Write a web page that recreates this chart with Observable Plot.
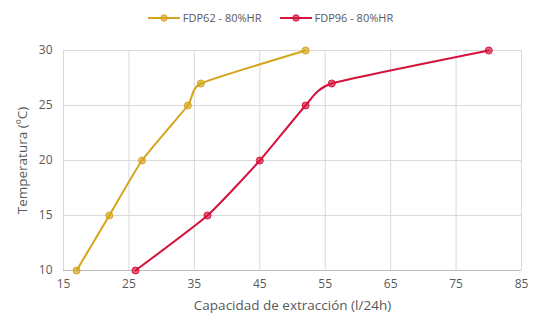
<!DOCTYPE html>
<html>
<head>
<meta charset="utf-8">
<script src="https://cdn.jsdelivr.net/npm/d3@7"></script>
<script src="https://cdn.jsdelivr.net/npm/@observablehq/plot@0.6"></script>
<style>
  html, body { margin: 0; padding: 0; background: #fff; }
  body { width: 539px; height: 319px; overflow: hidden; font-family: "Open Sans", Lato, sans-serif; }
  #legend { height: 35px; display: flex; justify-content: center; align-items: center; gap: 18px; font-size: 11px; color: #595959; padding-left: 2px; box-sizing: border-box; }
  .item { display: flex; align-items: center; gap: 3px; }
</style>
</head>
<body>
<div id="legend"></div>
<div id="chart"></div>
<script>
const seriesNames = ["FDP62 - 80%HR", "FDP96 - 80%HR"];
const seriesColors = ["#D4A41A", "#D4123C"];
const temps = [10, 15, 20, 25, 27, 30];
const capFDP62 = [17, 22, 27, 34, 36, 52];
const capFDP96 = [26, 37, 45, 52, 56, 80];
const xTicks = [15, 25, 35, 45, 55, 65, 75, 85];
const yTicks = [10, 15, 20, 25, 30];

const data = [];
[capFDP62, capFDP96].forEach((arr, s) => {
  arr.forEach((c, i) => data.push({series: seriesNames[s], cap: c, temp: temps[i]}));
});

// legend
const legend = document.getElementById("legend");
seriesNames.forEach((n, i) => {
  const d = document.createElement("div");
  d.className = "item";
  d.innerHTML = `<svg width="32" height="10"><line x1="0" x2="32" y1="5" y2="5" stroke="${seriesColors[i]}" stroke-width="2"/><circle cx="16" cy="5" r="3.2" fill="${seriesColors[i]}" fill-opacity="0.65" stroke="${seriesColors[i]}" stroke-width="1"/></svg><span>${n}</span>`;
  legend.appendChild(d);
});

const chart = Plot.plot({
  width: 539,
  height: 284,
  marginTop: 15,
  marginBottom: 49,
  marginLeft: 63,
  marginRight: 18,
  style: { fontFamily: "'Open Sans', Lato, sans-serif", fontSize: "12px", color: "#595959", background: "#fff" },
  x: { domain: [15, 85], ticks: xTicks, tickSize: 0, tickPadding: 9, label: "Capacidad de extracción (l/24h)", labelAnchor: "center", labelOffset: 39, labelArrow: "none" },
  y: { domain: [10, 30], ticks: yTicks, tickSize: 0, tickPadding: 11, label: "Temperatura (ºC)", labelAnchor: "center", labelOffset: 46, labelArrow: "none" },
  color: { domain: seriesNames, range: seriesColors },
  marks: [
    Plot.gridX(xTicks, { stroke: "#d9d9d9", strokeOpacity: 1 }),
    Plot.gridY(yTicks, { stroke: "#d9d9d9", strokeOpacity: 1 }),
    Plot.ruleY([10], { stroke: "#bfbfbf" }),
    Plot.line(data, { x: "cap", y: "temp", z: "series", stroke: "series", strokeWidth: 2, curve: "cardinal", tension: 0.5 }),
    Plot.dot(data, { x: "cap", y: "temp", fill: "series", stroke: "series", fillOpacity: 0.65, strokeWidth: 1, r: 3.5 })
  ]
});
chart.querySelectorAll("text").forEach(t => t.setAttribute("fill", "#595959"));
chart.querySelectorAll('g[aria-label="x-axis label"], g[aria-label="y-axis label"]').forEach(g => g.setAttribute("font-size", "13.5px"));
document.getElementById("chart").appendChild(chart);
</script>
</body>
</html>
